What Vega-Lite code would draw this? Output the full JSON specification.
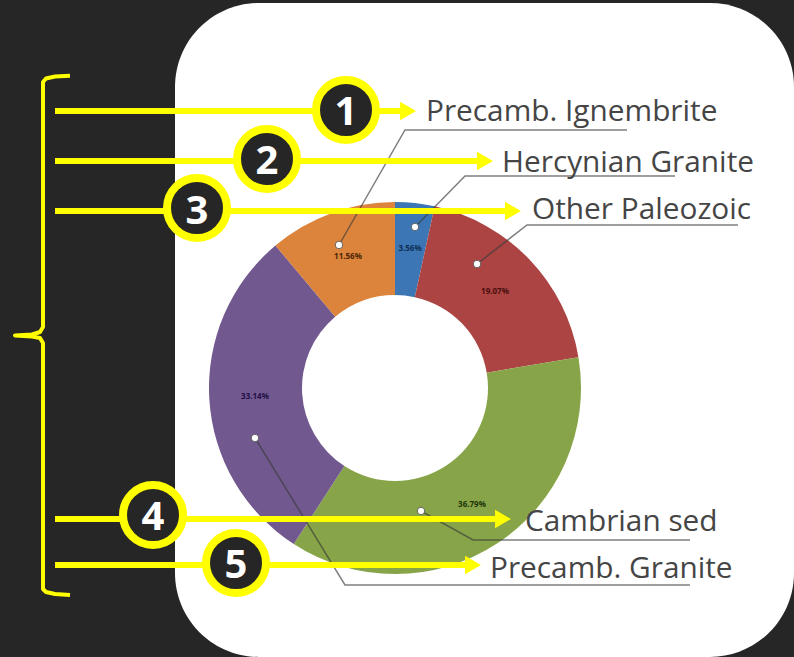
{
"$schema":"https://vega.github.io/schema/vega-lite/v6.json",
"width":794,"height":657,"padding":0,
"autosize":{"type":"fit","contains":"padding"},
"background":"#262626",
"view":{"stroke":null},
"datasets":{
"panel":[{"x":175,"x2":794,"y":3,"y2":657}],
"donut":[
{"rock":"Hercynian Granite","share":3.42,"pct":"3.56%","k":1,"lx":410,"ly":249,"color":"#0e2f55"},
{"rock":"Other Paleozoic","share":18.94,"pct":"19.07%","k":2,"lx":495,"ly":292,"color":"#4a0e0e"},
{"rock":"Cambrian sed","share":36.8,"pct":"36.79%","k":3,"lx":472,"ly":505,"color":"#1e3508"},
{"rock":"Precamb. Granite","share":29.73,"pct":"33.14%","k":4,"lx":255,"ly":397,"color":"#221046"},
{"rock":"Precamb. Ignembrite","share":11.11,"pct":"11.56%","k":5,"lx":348,"ly":257,"color":"#4c2403"}
],
"leaders":[
{"g":1,"s":1,"x":339,"y":245},{"g":1,"s":2,"x":405,"y":130},{"g":1,"s":3,"x":627,"y":130},
{"g":2,"s":1,"x":415,"y":227},{"g":2,"s":2,"x":465,"y":176},{"g":2,"s":3,"x":675,"y":176},
{"g":3,"s":1,"x":477,"y":264},{"g":3,"s":2,"x":527,"y":225},{"g":3,"s":3,"x":738,"y":225},
{"g":4,"s":1,"x":421,"y":511},{"g":4,"s":2,"x":473,"y":540},{"g":4,"s":3,"x":690,"y":540},
{"g":5,"s":1,"x":255,"y":438},{"g":5,"s":2,"x":345,"y":585},{"g":5,"s":3,"x":690,"y":585}
],
"dots":[{"x":339,"y":245},{"x":415,"y":227},{"x":477,"y":264},{"x":421,"y":511},{"x":255,"y":438}],
"bracket":[
{"s":1,"x":70,"y":75.7},{"s":2,"x":55,"y":76.5},{"s":3,"x":46,"y":78.5},{"s":4,"x":43,"y":82},
{"s":5,"x":43,"y":327},{"s":6,"x":40,"y":332},{"s":7,"x":32,"y":334.5},{"s":8,"x":15,"y":335.5},
{"s":9,"x":32,"y":336.5},{"s":10,"x":40,"y":338},{"s":11,"x":43,"y":343},
{"s":12,"x":43,"y":589},{"s":13,"x":46,"y":592},{"s":14,"x":55,"y":594},{"s":15,"x":70,"y":595}
],
"callouts":[
{"n":"1","x0":55,"tip":408,"ay":111,"cx":346,"cy":110,"ty":125,"label":"Precamb. Ignembrite","lx":426,"lby":121},
{"n":"2","x0":55,"tip":485,"ay":161,"cx":267,"cy":159,"ty":174,"label":"Hercynian Granite","lx":502,"lby":172},
{"n":"3","x0":55,"tip":513,"ay":211,"cx":197,"cy":208,"ty":224,"label":"Other Paleozoic","lx":532,"lby":219},
{"n":"4","x0":55,"tip":503,"ay":519,"cx":153,"cy":515,"ty":530,"label":"Cambrian sed","lx":525,"lby":531},
{"n":"5","x0":55,"tip":473,"ay":565,"cx":236,"cy":563,"ty":578,"label":"Precamb. Granite","lx":490,"lby":578}
]
},
"layer":[
{"data":{"name":"panel"},
 "mark":{"type":"rect","fill":"#ffffff","cornerRadius":84},
 "encoding":{
  "x":{"field":"x","type":"quantitative","scale":{"domain":[0,794],"nice":false,"zero":false},"axis":null},
  "x2":{"field":"x2"},
  "y":{"field":"y","type":"quantitative","scale":{"domain":[657,0],"nice":false,"zero":false},"axis":null},
  "y2":{"field":"y2"}}},
{"data":{"name":"donut"},
 "mark":{"type":"arc","radius":186,"radius2":93,"stroke":null},
 "encoding":{
  "theta":{"field":"share","type":"quantitative","stack":true,"scale":{"domain":[0,100],"range":[0,6.2832]}},
  "order":{"field":"k"},
  "color":{"field":"rock","type":"nominal","legend":null,"sort":null,
   "scale":{"domain":["Hercynian Granite","Other Paleozoic","Cambrian sed","Precamb. Granite","Precamb. Ignembrite"],
   "range":["#3C76B4","#AB4442","#87A548","#71588F","#DC843C"]}},
  "x":{"datum":395,"type":"quantitative","axis":null},
  "y":{"datum":388,"type":"quantitative","axis":null}}},
{"data":{"name":"donut"},
 "mark":{"type":"text","font":"Open Sans","fontSize":8,"fontWeight":"bold","align":"center","baseline":"middle"},
 "encoding":{
  "x":{"field":"lx","type":"quantitative","axis":null},
  "y":{"field":"ly","type":"quantitative","axis":null},
  "text":{"field":"pct"},
  "color":{"field":"color","type":"nominal","scale":null}}},
{"data":{"name":"leaders"},
 "mark":{"type":"line","stroke":"#3a3a3a","strokeWidth":1.5,"opacity":0.65,"interpolate":"linear"},
 "encoding":{
  "x":{"field":"x","type":"quantitative","axis":null},
  "y":{"field":"y","type":"quantitative","axis":null},
  "detail":{"field":"g"},
  "order":{"field":"s"}}},
{"data":{"name":"dots"},
 "mark":{"type":"point","shape":"circle","filled":true,"fill":"#ffffff","stroke":"#4a4a4a","strokeWidth":0.8,"size":55,"opacity":1},
 "encoding":{
  "x":{"field":"x","type":"quantitative","axis":null},
  "y":{"field":"y","type":"quantitative","axis":null}}},
{"data":{"name":"bracket"},
 "mark":{"type":"line","stroke":"#ffff00","strokeWidth":4,"strokeJoin":"round","strokeCap":"butt"},
 "encoding":{
  "x":{"field":"x","type":"quantitative","axis":null},
  "y":{"field":"y","type":"quantitative","axis":null},
  "order":{"field":"s"}}},
{"data":{"name":"callouts"},
 "mark":{"type":"rule","stroke":"#ffff00","strokeWidth":6},
 "encoding":{
  "x":{"field":"x0","type":"quantitative","axis":null},
  "x2":{"field":"tip"},
  "y":{"field":"ay","type":"quantitative","axis":null}}},
{"data":{"name":"callouts"},
 "mark":{"type":"point","shape":"triangle-right","filled":true,"fill":"#ffff00","size":340,"opacity":1},
 "encoding":{
  "x":{"field":"tip","type":"quantitative","axis":null},
  "y":{"field":"ay","type":"quantitative","axis":null}}},
{"data":{"name":"callouts"},
 "mark":{"type":"point","shape":"circle","filled":true,"fill":"#262626","stroke":"#ffff00","strokeWidth":8,"size":3600,"opacity":1},
 "encoding":{
  "x":{"field":"cx","type":"quantitative","axis":null},
  "y":{"field":"cy","type":"quantitative","axis":null}}},
{"data":{"name":"callouts"},
 "mark":{"type":"text","font":"Open Sans","fontWeight":"bold","fontSize":40,"fill":"#ffffff","align":"center","baseline":"alphabetic"},
 "encoding":{
  "x":{"field":"cx","type":"quantitative","axis":null},
  "y":{"field":"ty","type":"quantitative","axis":null},
  "text":{"field":"n"}}},
{"data":{"name":"callouts"},
 "mark":{"type":"text","font":"Open Sans","fontSize":29.8,"fill":"#454545","align":"left","baseline":"alphabetic"},
 "encoding":{
  "x":{"field":"lx","type":"quantitative","axis":null},
  "y":{"field":"lby","type":"quantitative","axis":null},
  "text":{"field":"label"}}}
],
"config":{"style":{"cell":{"stroke":null}}}
}
